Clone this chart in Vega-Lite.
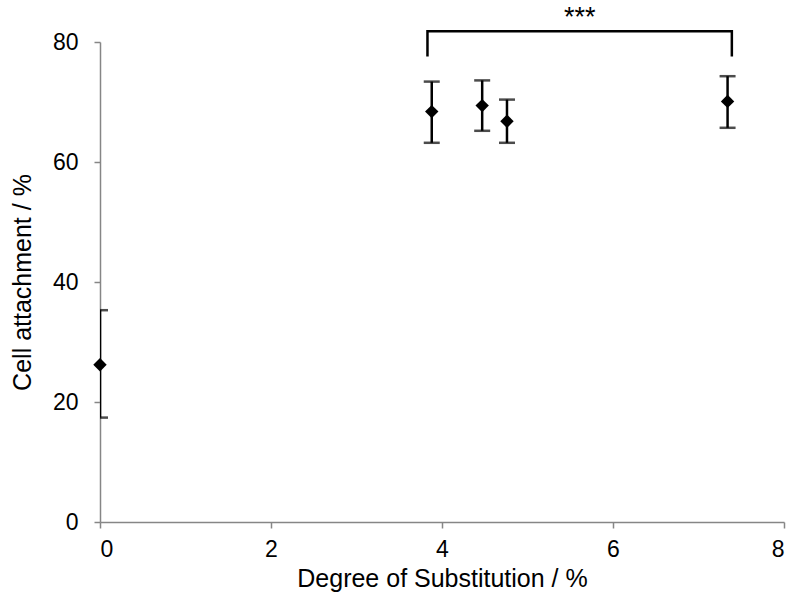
{
  "$schema": "https://vega.github.io/schema/vega-lite/v6.json",
  "autosize": "none",
  "width": 684,
  "height": 480,
  "padding": {"left": 100, "top": 42, "right": 3, "bottom": 89},
  "background": "white",
  "config": {
    "view": {"stroke": null},
    "font": "Liberation Sans",
    "axis": {
      "grid": false,
      "domainColor": "#868686",
      "tickColor": "#868686",
      "domainWidth": 1.5,
      "tickWidth": 1.5,
      "tickSize": 6,
      "labelFont": "Liberation Sans",
      "labelFontSize": 23,
      "labelColor": "#000000",
      "titleFont": "Liberation Sans",
      "titleFontSize": 25,
      "titleFontWeight": "normal",
      "titleColor": "#000000"
    }
  },
  "datasets": {
    "pts": [
      {"dos": 0, "att": 26.2, "lo": 17.4, "hi": 35.3},
      {"dos": 3.88, "att": 68.4, "lo": 63.2, "hi": 73.4},
      {"dos": 4.47, "att": 69.4, "lo": 65.2, "hi": 73.6},
      {"dos": 4.76, "att": 66.8, "lo": 63.2, "hi": 70.4},
      {"dos": 7.34, "att": 70.1, "lo": 65.7, "hi": 74.3}
    ],
    "bracket": [
      {"bx": 3.83, "by": 77.6, "o": 1},
      {"bx": 3.83, "by": 81.8, "o": 2},
      {"bx": 7.39, "by": 81.8, "o": 3},
      {"bx": 7.39, "by": 77.6, "o": 4}
    ],
    "sig": [
      {"tx": 5.61, "ty": 82.6, "label": "***"}
    ]
  },
  "layer": [
    {
      "data": {"name": "pts"},
      "mark": {"type": "rule", "color": "#000000", "strokeWidth": 2.5, "clip": true},
      "encoding": {
        "x": {
          "field": "dos", "type": "quantitative",
          "scale": {"domain": [0, 8], "nice": false, "zero": false},
          "axis": {"values": [0, 2, 4, 6, 8], "format": "d", "title": "Degree of Substitution / %", "labelPadding": 10, "titlePadding": 5}
        },
        "y": {
          "field": "lo", "type": "quantitative",
          "scale": {"domain": [0, 80], "nice": false},
          "axis": {"values": [0, 20, 40, 60, 80], "format": "d", "title": "Cell attachment / %", "labelPadding": 16, "titlePadding": 17}
        },
        "y2": {"field": "hi"}
      }
    },
    {
      "data": {"name": "pts"},
      "mark": {"type": "tick", "orient": "horizontal", "color": "#000000", "size": 16, "thickness": 2.5, "clip": true},
      "encoding": {
        "x": {"field": "dos", "type": "quantitative"},
        "y": {"field": "lo", "type": "quantitative"}
      }
    },
    {
      "data": {"name": "pts"},
      "mark": {"type": "tick", "orient": "horizontal", "color": "#000000", "size": 16, "thickness": 2.5, "clip": true},
      "encoding": {
        "x": {"field": "dos", "type": "quantitative"},
        "y": {"field": "hi", "type": "quantitative"}
      }
    },
    {
      "data": {"name": "pts"},
      "mark": {"type": "point", "shape": "diamond", "filled": true, "color": "#000000", "size": 180, "opacity": 1},
      "encoding": {
        "x": {"field": "dos", "type": "quantitative"},
        "y": {"field": "att", "type": "quantitative"}
      }
    },
    {
      "data": {"name": "bracket"},
      "mark": {"type": "line", "color": "#000000", "strokeWidth": 2.5, "clip": false},
      "encoding": {
        "x": {"field": "bx", "type": "quantitative"},
        "y": {"field": "by", "type": "quantitative"},
        "order": {"field": "o", "type": "quantitative"}
      }
    },
    {
      "data": {"name": "sig"},
      "mark": {"type": "text", "font": "Liberation Sans", "fontSize": 27, "color": "#000000", "baseline": "alphabetic", "align": "center", "clip": false},
      "encoding": {
        "x": {"field": "tx", "type": "quantitative"},
        "y": {"field": "ty", "type": "quantitative"},
        "text": {"field": "label", "type": "nominal"}
      }
    }
  ]
}
